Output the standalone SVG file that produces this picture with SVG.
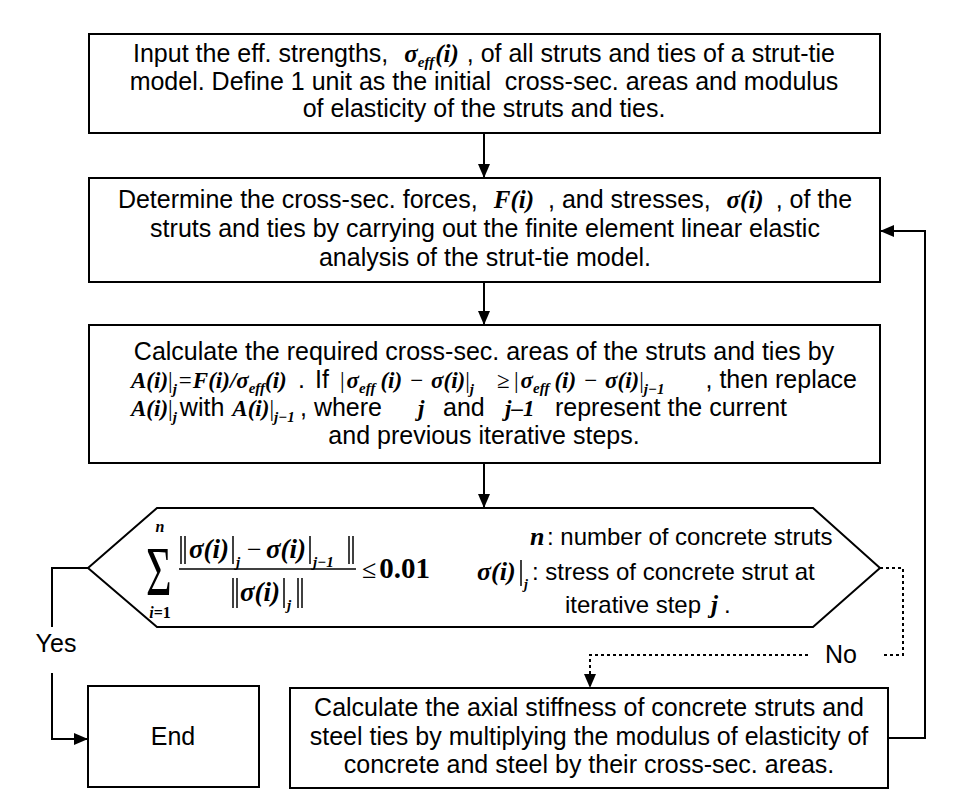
<svg xmlns="http://www.w3.org/2000/svg" width="960" height="810" viewBox="0 0 960 810">
<style>
.box{fill:#fff;stroke:#000;stroke-width:2}
.t{font-family:"Liberation Sans",Arial,sans-serif;font-size:25px;fill:#000;white-space:pre}
.c{text-anchor:middle}
.e{text-anchor:end}
.m{font-family:"Liberation Serif","Times New Roman",serif;font-weight:bold;font-style:italic;font-size:25px}
.r{font-family:"Liberation Serif","Times New Roman",serif;font-weight:normal;font-style:normal;font-size:25px}
.k{font-size:23px}
.s{font-size:15px}
.h{font-size:24px}
.ln{fill:none;stroke:#000;stroke-width:2}
.bar{fill:none;stroke:#000;stroke-width:1.5}
.dot{fill:none;stroke:#000;stroke-width:2;stroke-dasharray:3 3}
</style>
<defs>
<marker id="ah" markerUnits="userSpaceOnUse" viewBox="0 0 14 12" refX="14" refY="6" markerWidth="14" markerHeight="12" orient="auto">
<path d="M0,0 L14,6 L0,12 z" fill="#000"/>
</marker>
</defs>
<rect width="960" height="810" fill="#fff"/>

<g id="connectors">
<path class="ln" d="M484,133 V178" marker-end="url(#ah)"/>
<path class="ln" d="M484,282 V325" marker-end="url(#ah)"/>
<path class="ln" d="M484,463 V508" marker-end="url(#ah)"/>
<path class="ln" d="M888,738 H925 V231 H880" marker-end="url(#ah)"/>
<path class="ln" d="M88,568 H52 V627"/>
<path class="ln" d="M52,673 V739 H88" marker-end="url(#ah)"/>
<path class="dot" d="M880,568 H903 V655 H882"/>
<path class="dot" d="M808,655 H590 V688" marker-end="url(#ah)"/>
<text class="t c" x="56" y="652">Yes</text>
<text class="t c" x="841" y="663">No</text>
</g>

<g id="n1">
<rect class="box" x="89" y="34" width="791" height="99"/>
<text class="t c" x="484" y="62">Input the eff. strengths,<tspan class="m" dx="16">σ</tspan><tspan class="m s" dy="5">eff</tspan><tspan class="m" dy="-5" dx="1">(i)</tspan><tspan dx="8">, of all struts and ties of a strut-tie</tspan></text>
<text class="t c" x="484" y="90">model. Define 1 unit as the initial  cross-sec. areas and modulus</text>
<text class="t c" x="484" y="117">of elasticity of the struts and ties.</text>
</g>

<g id="n2">
<rect class="box" x="89" y="178" width="791" height="104"/>
<text class="t c" x="485" y="208">Determine the cross-sec. forces,<tspan class="m" dx="16">F(i)</tspan><tspan dx="14">, and stresses,</tspan><tspan class="m" dx="16">σ(i)</tspan><tspan dx="12">, of the</tspan></text>
<text class="t c" x="485" y="237">struts and ties by carrying out the finite element linear elastic</text>
<text class="t c" x="485" y="266">analysis of the strut-tie model.</text>
</g>

<g id="n3">
<rect class="box" x="89" y="325" width="791" height="138"/>
<text class="t c" x="484" y="360">Calculate the required cross-sec. areas of the struts and ties by</text>
<text class="t" y="388"><tspan x="131" class="m k">A(i)</tspan><tspan class="r k">|</tspan><tspan class="m s" dy="6">j</tspan><tspan class="r k" dy="-6" dx="2">=</tspan><tspan class="m k" dx="1">F(i)/σ</tspan><tspan class="m s" dy="5">eff</tspan><tspan class="m k" dy="-5">(i)</tspan></text>
<text class="t" x="298" y="388">.</text>
<text class="t" x="315" y="388">If</text>
<text class="t" y="388"><tspan x="340" class="r k">|</tspan><tspan class="m k" dx="2">σ</tspan><tspan class="m s" dy="5">eff</tspan><tspan class="m k" dy="-5" dx="5">(i)</tspan><tspan class="r k" dx="8">−</tspan><tspan class="m k" dx="8">σ(i)</tspan><tspan class="r k">|</tspan><tspan class="m s" dy="6">j</tspan></text>
<text class="r k" x="497" y="388">≥</text>
<text class="t" y="388"><tspan x="514" class="r k">|</tspan><tspan class="m k" dx="2">σ</tspan><tspan class="m s" dy="5">eff</tspan><tspan class="m k" dy="-5" dx="5">(i)</tspan><tspan class="r k" dx="8">−</tspan><tspan class="m k" dx="8">σ(i)</tspan><tspan class="r k">|</tspan><tspan class="m s" dy="6">j</tspan><tspan class="m s">−1</tspan></text>
<text class="t e" x="857" y="388">, then replace</text>
<text class="t" y="416"><tspan x="131" class="m k">A(i)</tspan><tspan class="r k">|</tspan><tspan class="m s" dy="6">j</tspan><tspan dy="-6" dx="3">with</tspan><tspan class="m k" dx="8">A(i)</tspan><tspan class="r k">|</tspan><tspan class="m s" dy="6">j</tspan><tspan class="m s">−1</tspan></text>
<text class="t" x="300" y="416">, where</text>
<text class="m k" x="418" y="416">j</text>
<text class="t" x="443" y="416">and</text>
<text class="m k" x="505" y="416">j–1</text>
<text class="t e" x="787" y="416">represent the current</text>
<text class="t c" x="484" y="444">and previous iterative steps.</text>
</g>

<g id="decision">
<polygon class="box" points="88,568 157,508 813,508 880,568 813,627 157,627"/>
<text class="r" transform="translate(146,595) scale(1,1.6)" style="font-size:44px">Σ</text>
<text class="m c" x="160" y="532" style="font-size:16px">n</text>
<text class="m c" x="160" y="618" style="font-size:16px">i<tspan style="font-style:normal">=1</tspan></text>
<line class="bar" x1="181" y1="536" x2="181" y2="564"/>
<line class="bar" x1="185" y1="536" x2="185" y2="564"/>
<text class="m" x="189" y="558" style="font-size:27px">σ(i)</text>
<line class="bar" x1="233" y1="536" x2="233" y2="564"/>
<text class="m" x="236" y="567" style="font-size:15px">j</text>
<text class="r" x="247" y="558" style="font-size:26px">−</text>
<text class="m" x="266" y="558" style="font-size:27px">σ(i)</text>
<line class="bar" x1="310" y1="536" x2="310" y2="564"/>
<text class="m" x="313" y="567" style="font-size:15px">j−1</text>
<line class="bar" x1="349" y1="536" x2="349" y2="564"/>
<line class="bar" x1="353" y1="536" x2="353" y2="564"/>
<line class="bar" x1="179" y1="569" x2="356" y2="569"/>
<line class="bar" x1="233" y1="578" x2="233" y2="608"/>
<line class="bar" x1="237" y1="578" x2="237" y2="608"/>
<text class="m" x="240" y="601" style="font-size:27px">σ(i)</text>
<line class="bar" x1="284" y1="578" x2="284" y2="608"/>
<text class="m" x="287" y="610" style="font-size:15px">j</text>
<line class="bar" x1="298" y1="578" x2="298" y2="608"/>
<line class="bar" x1="302" y1="578" x2="302" y2="608"/>
<text class="r" x="362" y="578" style="font-size:26px">≤<tspan dx="3" style="font-weight:bold;font-size:29px">0.01</tspan></text>
<text class="m" x="530" y="545" style="font-size:26px">n</text>
<text class="t h" x="547" y="545">: number of concrete struts</text>
<text class="m" x="477" y="580" style="font-size:26px">σ(i)</text>
<line class="bar" x1="521" y1="560" x2="521" y2="586"/>
<text class="m" x="524" y="589" style="font-size:14px">j</text>
<text class="t h" x="532" y="580">: stress of concrete strut at</text>
<text class="t h" x="565" y="613">iterative step<tspan class="m" dx="10">j</tspan><tspan dx="6">.</tspan></text>
</g>

<g id="end">
<rect class="box" x="88" y="686" width="171" height="101"/>
<text class="t c" x="173" y="745">End</text>
</g>

<g id="n5">
<rect class="box" x="290" y="688" width="598" height="100"/>
<text class="t c" x="589" y="716">Calculate the axial stiffness of concrete struts and</text>
<text class="t c" x="589" y="745">steel ties by multiplying the modulus of elasticity of</text>
<text class="t c" x="589" y="773">concrete and steel by their cross-sec. areas.</text>
</g>
</svg>
